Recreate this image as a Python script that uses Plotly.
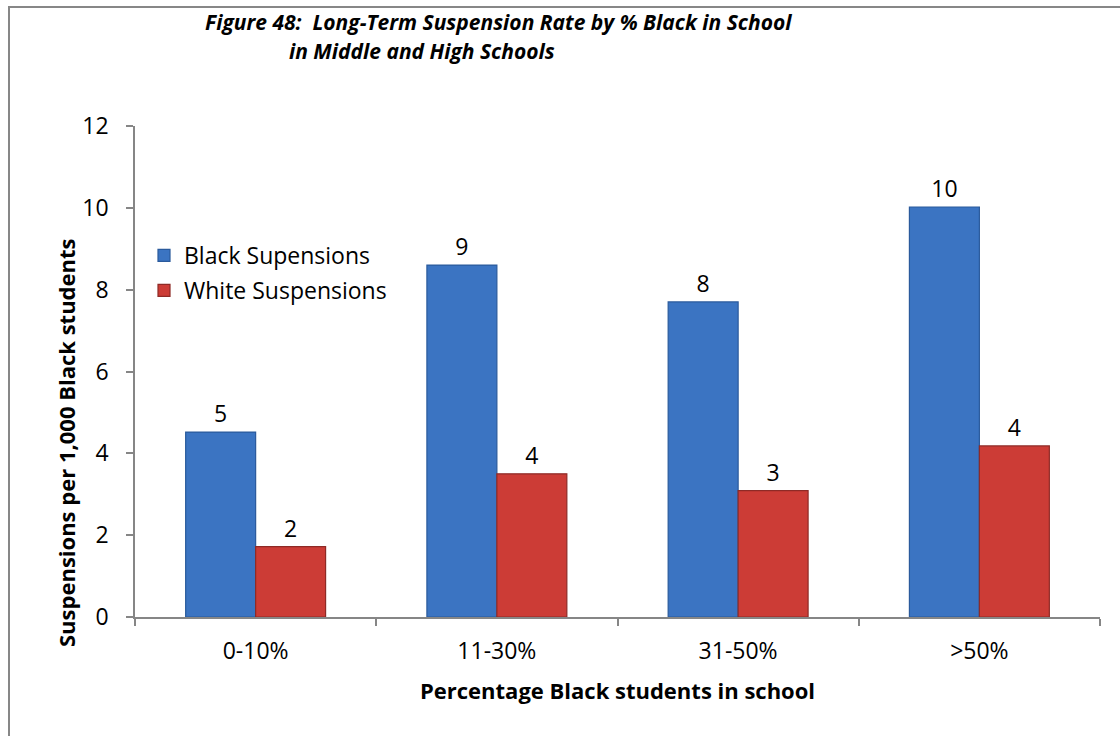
import plotly.graph_objects as go

categories = ["0-10%", "11-30%", "31-50%", ">50%"]
black_vals = [4.52, 8.6, 7.7, 10.02]
white_vals = [1.72, 3.5, 3.09, 4.18]
y_ticks = [0, 2, 4, 6, 8, 10, 12]

FONT = "Open Sans"
L, R, T, B = 135, 20, 126, 119
W, H = 1120, 736
pw, ph = W - L - R, H - T - B

def px(x):
    return (x - L) / pw

def py(y):
    return (H - B - y) / ph

fig = go.Figure()
fig.add_trace(go.Bar(
    x=categories, y=black_vals, name="Black Supensions",
    marker=dict(color="#3b74c2", line=dict(color="#2a5a9c", width=1.2)),
    texttemplate="%{y:.0f}", textposition="outside",
    textfont=dict(family=FONT, size=23, color="#000"),
    cliponaxis=False, legendgroup="a",
))
fig.add_trace(go.Bar(
    x=categories, y=white_vals, name="White Suspensions",
    marker=dict(color="#cc3c36", line=dict(color="#8e2a26", width=1.2)),
    texttemplate="%{y:.0f}", textposition="outside",
    textfont=dict(family=FONT, size=23, color="#000"),
    cliponaxis=False, legendgroup="b",
))

fig.update_layout(
    width=W, height=H,
    margin=dict(l=L, r=R, t=T, b=B),
    paper_bgcolor="white", plot_bgcolor="white",
    barmode="group", bargap=0.42, bargroupgap=0,
    font=dict(family=FONT, size=23, color="#000"),
    showlegend=True,
    legend=dict(x=px(144), y=py(234), xanchor="left", yanchor="top",
                font=dict(family=FONT, size=23, color="#000"),
                traceorder="grouped", tracegroupgap=2,
                bgcolor="rgba(0,0,0,0)", itemwidth=30),
    xaxis=dict(type="category", showline=True, linecolor="#868686", linewidth=1.5,
               ticks="outside", tickson="boundaries", ticklen=7, tickcolor="#868686",
               tickwidth=1.5, showgrid=False, zeroline=False, ticklabelstandoff=13,
               tickfont=dict(family=FONT, size=23, color="#000")),
    yaxis=dict(range=[0, 12], tickvals=y_ticks, showline=True, linecolor="#868686",
               linewidth=1.5, ticks="outside", ticklen=7, tickcolor="#868686",
               tickwidth=1.5, showgrid=False, zeroline=False, ticklabelstandoff=13,
               tickfont=dict(family=FONT, size=23, color="#000")),
    annotations=[
        dict(text="<b><i>Figure 48:  Long-Term Suspension Rate by % Black in School</i></b>",
             x=px(498), y=py(22), xref="paper", yref="paper", showarrow=False,
             font=dict(family=FONT, size=21, color="#000"), xanchor="center", yanchor="middle"),
        dict(text="<b><i>in Middle and High Schools</i></b>",
             x=px(422), y=py(51), xref="paper", yref="paper", showarrow=False,
             font=dict(family=FONT, size=21, color="#000"), xanchor="center", yanchor="middle"),
        dict(text="<b>Suspensions per 1,000 Black students</b>",
             x=px(66), y=py(443), xref="paper", yref="paper", showarrow=False, textangle=-90,
             font=dict(family=FONT, size=22, color="#000"), xanchor="center", yanchor="middle"),
        dict(text="<b>Percentage Black students in school</b>",
             x=px(617), y=py(690), xref="paper", yref="paper", showarrow=False,
             font=dict(family=FONT, size=22, color="#000"), xanchor="center", yanchor="middle"),
    ],
    shapes=[
        dict(type="rect", xref="paper", yref="paper",
             x0=px(9), x1=px(1130), y0=py(750), y1=py(7),
             line=dict(color="#878787", width=2), fillcolor="rgba(0,0,0,0)", layer="below"),
    ],
)

fig.write_html("out.html")
